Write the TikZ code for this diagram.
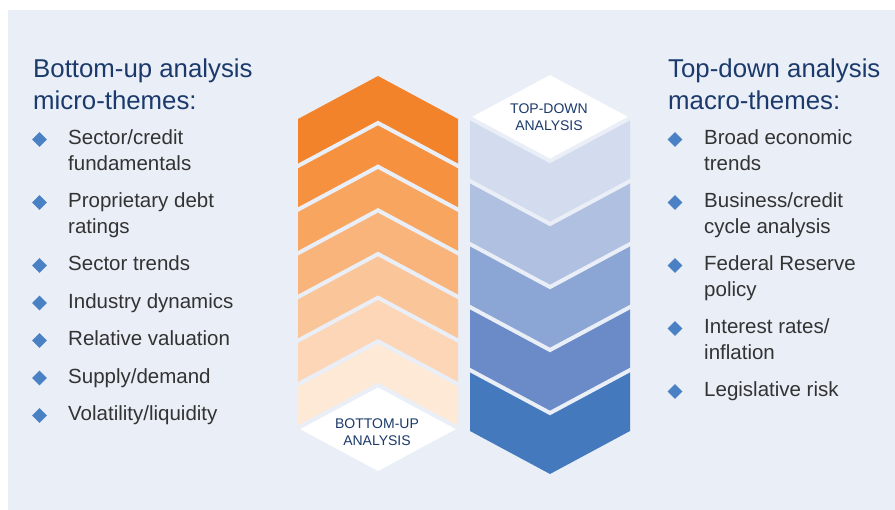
\documentclass[tikz,border=0pt]{standalone}
\usepackage{fontspec}
\setmainfont{Liberation Sans}
\usetikzlibrary{shapes.geometric}
\definecolor{panel}{HTML}{E9EEF7}
\definecolor{o1}{HTML}{F3832A}
\definecolor{o2}{HTML}{F6923F}
\definecolor{o3}{HTML}{F8A560}
\definecolor{o4}{HTML}{F9B47C}
\definecolor{o5}{HTML}{FBC59A}
\definecolor{o6}{HTML}{FCD6B6}
\definecolor{o7}{HTML}{FDE9D6}
\definecolor{b1}{HTML}{D3DCEE}
\definecolor{b2}{HTML}{AFC0E1}
\definecolor{b3}{HTML}{8BA6D5}
\definecolor{b4}{HTML}{6A8BC8}
\definecolor{b5}{HTML}{4479BE}
\definecolor{navy}{HTML}{1B3A6B}
\definecolor{itemtxt}{HTML}{333333}
\definecolor{bulletblue}{HTML}{4A80C4}
\begin{document}
\begin{tikzpicture}[x=1pt,y=-1pt,
  seam/.style={draw=panel,line width=4pt},
  heading/.style={anchor=base west,inner sep=0pt,text=navy,align=left,font=\fontsize{25.8}{32}\selectfont},
  item/.style={anchor=base west,inner sep=0pt,text=itemtxt,align=left,font=\fontsize{20.5}{25.5}\selectfont},
  bul/.style={diamond,fill=bulletblue,inner sep=0pt,minimum width=15pt,minimum height=15pt},
  tag/.style={anchor=base,inner sep=0pt,text=navy,align=center,font=\fontsize{14}{16.5}\selectfont}]
\useasboundingbox (0,0) rectangle (895,510);
\fill[white] (0,0) rectangle (895,510);
\fill[panel] (8,10) rectangle (895,510);

% left column (bottom-up), chevrons pointing up
\foreach \ya/\yb/\c in {76/123/o1,123/166.7/o2,166.7/210.3/o3,210.3/254/o4,254/297.7/o5,297.7/341.3/o6,341.3/385/o7}
  \fill[\c] (298,\ya+43) -- (378,\ya) -- (458,\ya+43) -- (458,\yb+43) -- (378,\yb) -- (298,\yb+43) -- cycle;
\fill[white] (298,428) -- (378,385) -- (458,428) -- (378,471) -- cycle;
\foreach \yb in {123,166.7,210.3,254,297.7,341.3,385}
  \draw[seam] (296,\yb+44) -- (378,\yb) -- (460,\yb+44);

% right column (top-down), chevrons pointing down
\fill[white] (470,118) -- (550,75) -- (630,118) -- (550,161) -- cycle;
\foreach \sa/\sb/\c in {161/224/b1,224/287/b2,287/350/b3,350/413/b4,413/474/b5}
  \fill[\c] (470,\sa-43) -- (550,\sa) -- (630,\sa-43) -- (630,\sb-43) -- (550,\sb) -- (470,\sb-43) -- cycle;
\foreach \sb in {161,224,287,350,413}
  \draw[seam] (468,\sb-44) -- (550,\sb) -- (632,\sb-44);

% multi-line nodes: anchor base = baseline of last line
\node[tag] (tdtag) at (549,130.5) {TOP-DOWN\\ANALYSIS};
\node[tag] (butag) at (377,445.5) {BOTTOM-UP\\ANALYSIS};

% left texts
\node[heading] (lhead) at (33,110) {Bottom-up analysis\\micro-themes:};
\foreach \y/\yl/\t [count=\i] in {145/170.5/{Sector/credit\\fundamentals},208/233.5/{Proprietary debt\\ratings},271/271/{Sector trends},308.5/308.5/{Industry dynamics},346/346/{Relative valuation},383.5/383.5/{Supply/demand},421/421/{Volatility/liquidity}}{
  \node[bul] (lb\i) at (39.5,\y-5.5) {};
  \node[item] (li\i) at (68,\yl) {\t};
}

% right texts
\node[heading] (rhead) at (668,110) {Top-down analysis\\macro-themes:};
\foreach \y/\yl/\t [count=\i] in {145/170.5/{Broad economic\\trends},208/233.5/{Business/credit\\cycle analysis},271/296.5/{Federal Reserve\\policy},334/359.5/{Interest rates/\\inflation},397/397/{Legislative risk}}{
  \node[bul] (rb\i) at (675,\y-5.5) {};
  \node[item] (ri\i) at (704,\yl) {\t};
}
\end{tikzpicture}
\end{document}
